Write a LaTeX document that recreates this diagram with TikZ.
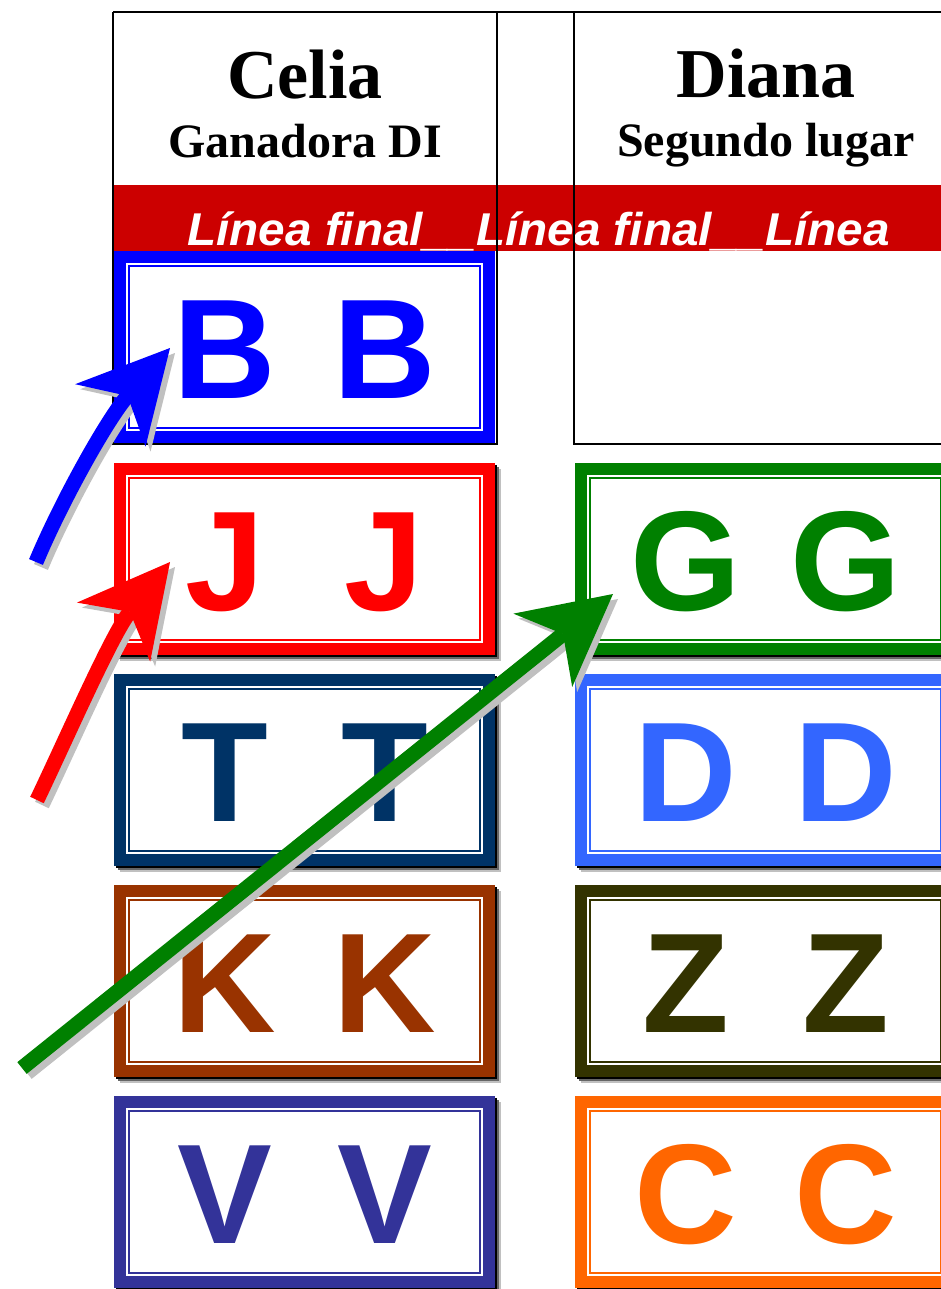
\documentclass[tikz,border=0pt]{standalone}
\usepackage{fontspec}
\usepackage{tikz}
\usetikzlibrary{arrows.meta, calc}
\newfontfamily\headfont{Liberation Serif}
\newfontfamily\cardfont{Liberation Sans}
\definecolor{cardblue}{RGB}{0,0,255}
\definecolor{cardred}{RGB}{255,0,0}
\definecolor{cardnavy}{RGB}{0,51,102}
\definecolor{cardbrown}{RGB}{153,51,0}
\definecolor{cardindigo}{RGB}{51,51,153}
\definecolor{cardgreen}{RGB}{0,128,0}
\definecolor{cardsky}{RGB}{51,102,255}
\definecolor{cardolive}{RGB}{51,51,0}
\definecolor{cardorange}{RGB}{255,102,0}
\definecolor{bannerred}{RGB}{204,0,0}
\definecolor{shadelight}{RGB}{192,192,192}
\definecolor{shadedark}{RGB}{102,102,102}
\newcommand{\pairof}[1]{\makebox[160pt]{#1}\makebox[160pt]{#1}}
\tikzset{
  card/.style={rectangle, draw=#1, fill=white, line width=12pt, outer sep=0pt,
    minimum width=369pt, minimum height=180pt, inner sep=0pt,
    text=#1, text height=102pt, text depth=0pt,
    font=\cardfont\bfseries\fontsize{142}{142}\selectfont},
  cardline/.style={draw=#1, line width=1.6pt},
  headname/.style={anchor=base, font=\headfont\bfseries\fontsize{70}{70}\selectfont},
  headsub/.style={anchor=base, font=\headfont\bfseries\fontsize{48}{48}\selectfont},
  bannertext/.style={anchor=base west, inner sep=0pt, text=white,
    font=\cardfont\bfseries\itshape\fontsize{46}{46}\selectfont},
  rule/.style={draw=black, line width=2.5pt},
  tip/.style={-{Stealth[length=90pt, width=94pt, inset=26pt, line width=0pt]}},
  bigarrow/.style={tip, draw=#1, line width=15pt},
  arrowshade/.style={tip, draw=shadelight, line width=15pt,
    transform canvas={shift={(5,5)}}}
}
\begin{document}
\begin{tikzpicture}[x=1pt, y=-1pt]
  \useasboundingbox (0,0) rectangle (941,1289);
  \clip (0,0) rectangle (941,1289);

  % Header cells
  \node[headname] (celia) at (305,99) {Celia};
  \node[headsub] (celiasub) at (305,158) {Ganadora DI};
  \node[headname] (diana) at (766,98) {Diana};
  \node[headsub] (dianasub) at (766,157) {Segundo lugar};

  % Banner
  \fill[bannerred] (113,185) rectangle (941,251);
  \node[bannertext] (banner) at (187,245)
    {\scalebox{1.037}[1]{Línea final\_\_Línea final\_\_Línea}};

  % First card, inside the table
  \node[card=cardblue] (bb) at (304.5,347) {\pairof{B}};
  \draw[cardline=cardblue] ($(bb.north west)+(9,9)$) rectangle ($(bb.south east)+(-9,-9)$);

  % Table rules
  \draw[rule] (113,12) -- (941,12);
  \draw[rule] (113,12) -- (113,444) -- (497,444) -- (497,12);
  \draw[rule] (941,444) -- (574,444) -- (574,12);

  % Cards with shadows
  \foreach \ltr/\x/\y/\col/\nm in {J/114/463/cardred/jj, T/114/674/cardnavy/tt,
      K/114/885/cardbrown/kk, V/114/1096/cardindigo/vv, G/575/463/cardgreen/gg,
      D/575/674/cardsky/dd, Z/575/885/cardolive/zz, C/575/1096/cardorange/cc} {
    \fill[shadelight] (\x+6,\y+6) rectangle ++(381,192);
    \fill[shadedark] (\x+4,\y+4) rectangle ++(381,192);
    \fill[black] (\x+2,\y+2) rectangle ++(381,192);
    \node[card=\col] (\nm) at (\x+190.5,\y+96) {\pairof{\ltr}};
    \draw[cardline=\col] ($(\nm.north west)+(9,9)$) rectangle ($(\nm.south east)+(-9,-9)$);
  }

  % Arrows
  \coordinate (bstart) at (36,562);
  \coordinate (btip) at (170,348);
  \coordinate (jstart) at (37,800);
  \coordinate (jtip) at (170,562);
  \coordinate (gstart) at (22,1068);
  \coordinate (gtip) at (613,594);
  \draw[arrowshade] (bstart) .. controls (62,500) and (108,418) .. (btip);
  \draw[bigarrow=cardblue] (bstart) .. controls (62,500) and (108,418) .. (btip);
  \draw[arrowshade] (jstart) .. controls (68,735) and (112,634) .. (jtip);
  \draw[bigarrow=cardred] (jstart) .. controls (68,735) and (112,634) .. (jtip);
  \draw[arrowshade] (gstart) -- (gtip);
  \draw[bigarrow=cardgreen] (gstart) -- (gtip);
\end{tikzpicture}
\end{document}
